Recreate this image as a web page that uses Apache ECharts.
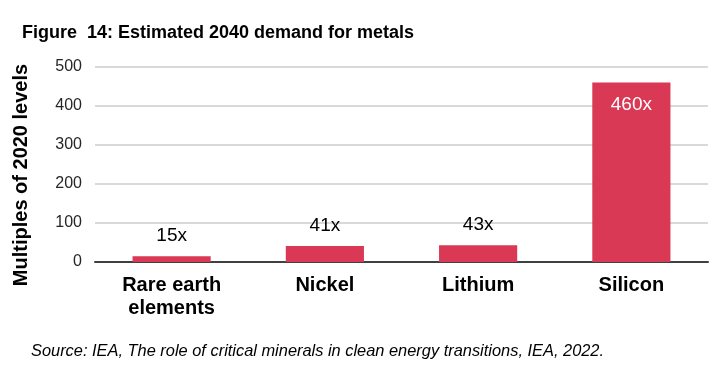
<!DOCTYPE html>
<html>
<head>
<meta charset="utf-8">
<script src="https://cdn.jsdelivr.net/npm/echarts@6/dist/echarts.min.js"></script>
<style>
html,body{margin:0;padding:0;background:#fff;}
#c{width:722px;height:378px;}
</style>
</head>
<body>
<div id="c"></div>
<script>
const categories = ['Rare earth\nelements', 'Nickel', 'Lithium', 'Silicon'];
const values = [15, 41, 43, 460];
const valueLabels = ['15x', '41x', '43x', '460x'];
const yTicks = [0, 100, 200, 300, 400, 500];

const barColor = '#D93954';
const font = '"Liberation Sans", Arial, sans-serif';

const chart = echarts.init(document.getElementById('c'));
chart.setOption({
  animation: false,
  backgroundColor: '#fff',
  title: {
    text: 'Figure  14: Estimated 2040 demand for metals',
    left: 17, top: 19,
    textStyle: { fontFamily: font, fontSize: 18, fontWeight: 'bold', color: '#000' }
  },
  graphic: [{
    type: 'text', left: 31, top: 343,
    style: {
      text: 'Source: IEA, The role of critical minerals in clean energy transitions, IEA, 2022.',
      fontFamily: font, fontSize: 16.4, fontStyle: 'italic', fill: '#000'
    }
  }, {
    type: 'text', x: 21, y: 175, rotation: Math.PI / 2,
    style: {
      text: 'Multiples of 2020 levels',
      fontFamily: font, fontSize: 20, fontWeight: 'bold', fill: '#000',
      align: 'center', verticalAlign: 'middle'
    }
  }],
  grid: { left: 95, right: 14, top: 67, bottom: 116, containLabel: false },
  xAxis: {
    type: 'category',
    data: categories,
    axisLine: { lineStyle: { color: '#404040', width: 2 } },
    axisTick: { show: false },
    axisLabel: {
      fontFamily: font, fontSize: 20, fontWeight: 'bold', color: '#000',
      margin: 12, lineHeight: 23, interval: 0
    }
  },
  yAxis: {
    type: 'value',
    min: yTicks[0], max: yTicks[yTicks.length - 1], interval: 100,
    axisLine: { show: false },
    axisTick: { show: false },
    axisLabel: { fontFamily: font, fontSize: 16, color: '#262626', margin: 13 },
    splitLine: { lineStyle: { color: '#d9d9d9', width: 2 } }
  },
  series: [{
    type: 'bar',
    data: values.map((v, i) => ({
      value: v,
      label: i === values.length - 1
        ? { show: true, position: 'insideTop', distance: 13, color: '#fff' }
        : { show: true, position: 'top', distance: 11, color: '#000' }
    })),
    barWidth: '51%',
    itemStyle: { color: barColor },
    label: {
      fontFamily: font, fontSize: 19,
      formatter: p => valueLabels[p.dataIndex]
    }
  }]
});
</script>
</body>
</html>
